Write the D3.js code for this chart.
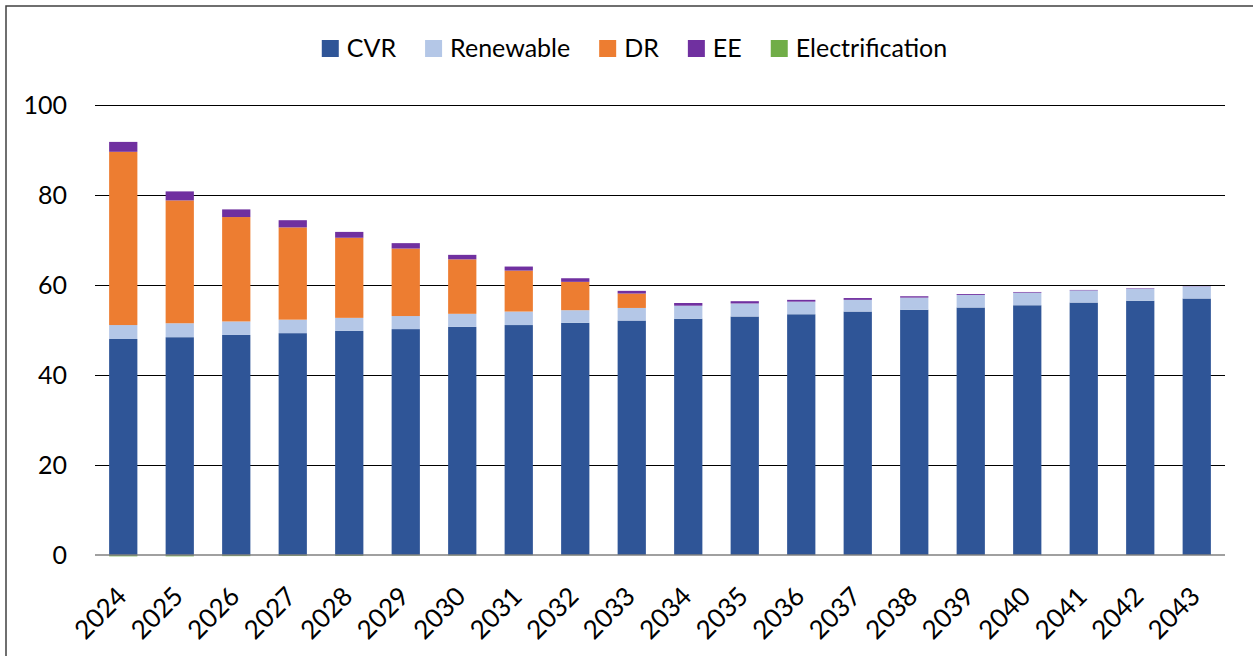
<!DOCTYPE html>
<html>
<head>
<meta charset="utf-8">
<script src="https://cdn.jsdelivr.net/npm/d3@7"></script>
<style>
  body { margin: 0; background: #fff; }
  text { font-family: Lato, "Open Sans", sans-serif; fill: #000; }
</style>
</head>
<body>
<svg id="chart" width="1253" height="656"></svg>
<script>
// values
var years = ["2024","2025","2026","2027","2028","2029","2030","2031","2032","2033",
             "2034","2035","2036","2037","2038","2039","2040","2041","2042","2043"];
var cvr = [48.0,48.4,48.9,49.3,49.8,50.2,50.7,51.1,51.6,52.1,52.5,53.0,53.5,54.1,54.5,55.0,55.5,56.1,56.5,57.0];
var renewable = [3.1,3.1,3.0,3.0,2.9,2.9,2.9,3.0,2.8,2.8,2.9,2.9,2.8,2.6,2.7,2.8,2.8,2.7,2.7,2.7];
var dr = [38.5,27.3,23.2,20.5,17.8,15.0,12.1,9.1,6.3,3.2,0,0,0,0,0,0,0,0,0,0];
var ee = [2.2,2.0,1.7,1.6,1.3,1.2,1.0,0.9,0.8,0.6,0.6,0.5,0.4,0.4,0.3,0.2,0.15,0.1,0.1,0.05];
var electrification = [-0.3,-0.3,-0.25,-0.2,-0.2,-0.1,-0.1,-0.05,-0.05,0,0,0,0,0,0,0,0,0,0,0];
var seriesNames = ["CVR","Renewable","DR","EE","Electrification"];
var colors = ["#2F5597","#B4C7E7","#ED7D31","#7030A0","#70AD47"];
var yTicks = [0,20,40,60,80,100];

var svg = d3.select("#chart");

// table for d3.stack
var rows = years.map(function(y, i){
	return {year: y, CVR: cvr[i], Renewable: renewable[i], DR: dr[i], EE: ee[i], Electrification: electrification[i]};
});

var x = d3.scaleBand().domain(years).range([95, 1225]).paddingInner(0.5).paddingOuter(0.25);
var y = d3.scaleLinear().domain([0, 100]).range([555, 105]);
var color = d3.scaleOrdinal().domain(seriesNames).range(colors);

// chart frame (only top and left edges visible)
svg.append("path")
	.attr("d", "M6,660 L6,6 L1260,6")
	.attr("fill", "none")
	.attr("stroke", "#404040")
	.attr("stroke-width", 1.5);

// gridlines
svg.append("g")
	.selectAll("line")
	.data(yTicks.filter(function(d){ return d > 0; }))
	.enter().append("line")
	.attr("x1", 95).attr("x2", 1225)
	.attr("y1", function(d){ return y(d) + 0.5; })
	.attr("y2", function(d){ return y(d) + 0.5; })
	.attr("stroke", "#000")
	.attr("stroke-width", 1);

// y tick labels
svg.append("g")
	.selectAll("text")
	.data(yTicks)
	.enter().append("text")
	.attr("x", 67)
	.attr("y", function(d){ return y(d); })
	.attr("dy", "0.36em")
	.attr("text-anchor", "end")
	.style("font-size", "25px")
	.text(function(d){ return d; });

// stacked bars
var stack = d3.stack().keys(seriesNames).offset(d3.stackOffsetDiverging);
var layers = stack(rows);

svg.append("g")
	.selectAll("g")
	.data(layers)
	.enter().append("g")
	.attr("fill", function(d){ return color(d.key); })
	.selectAll("rect")
	.data(function(d){ return d; })
	.enter().append("rect")
	.attr("x", function(d){ return x(d.data.year); })
	.attr("width", x.bandwidth())
	.attr("y", function(d){ return y(Math.max(d[0], d[1])); })
	.attr("height", function(d){ return Math.abs(y(d[0]) - y(d[1])); });

// zero axis line
svg.append("line")
	.attr("x1", 95).attr("x2", 1225)
	.attr("y1", y(0)).attr("y2", y(0))
	.attr("stroke", "#808080")
	.attr("stroke-width", 1.5);

// x labels, rotated
svg.append("g")
	.selectAll("text")
	.data(years)
	.enter().append("text")
	.attr("transform", function(d){
		return "translate(" + (x(d) + x.bandwidth()/2 + 5) + ",598) rotate(-45)";
	})
	.attr("text-anchor", "end")
	.style("font-size", "26px")
	.text(function(d){ return d; });

// legend
var legend = svg.append("g");
var lx = 0;
seriesNames.forEach(function(name, i){
	var item = legend.append("g").attr("transform", "translate(" + lx + ",0)");
	item.append("rect").attr("x", 0).attr("y", 40).attr("width", 17).attr("height", 17)
		.attr("fill", colors[i]);
	var t = item.append("text").attr("x", 25).attr("y", 57)
		.style("font-size", "25px").text(name);
	lx += 25 + t.node().getComputedTextLength() + 29;
});
var legendWidth = lx - 29;
legend.attr("transform", "translate(" + (634.5 - legendWidth/2) + ",0)");
</script>
</body>
</html>
